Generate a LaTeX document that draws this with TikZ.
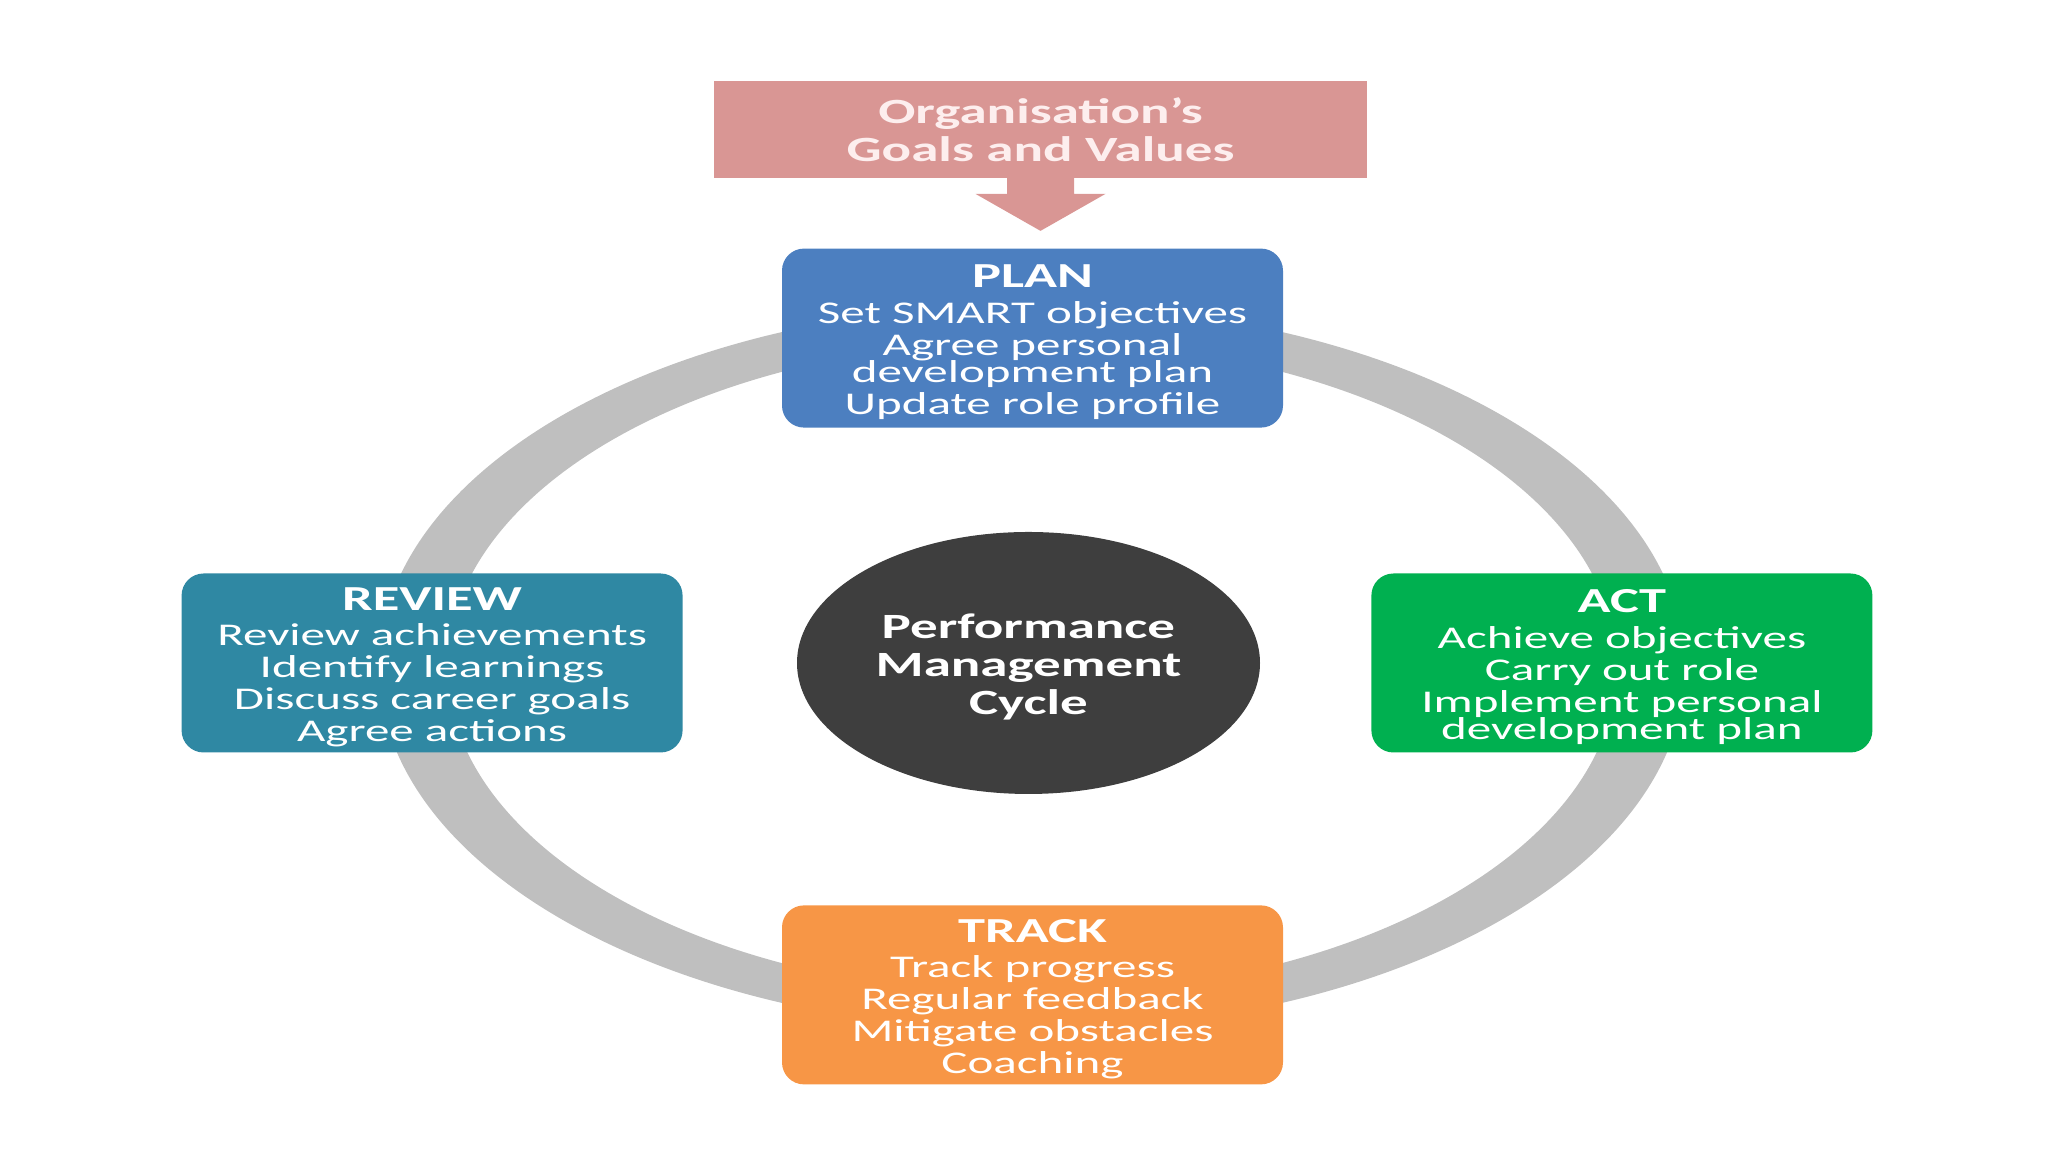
\documentclass[tikz,border=0pt]{standalone}
\usepackage{fontspec}
\setmainfont{Carlito}[FakeStretch=1.55]
\usetikzlibrary{positioning, shapes.geometric}

\definecolor{planblue}{RGB}{76,127,192}
\definecolor{reviewteal}{RGB}{47,136,163}
\definecolor{actgreen}{RGB}{0,176,80}
\definecolor{trackorange}{RGB}{247,150,70}
\definecolor{hubgray}{RGB}{62,62,62}
\definecolor{ringgray}{RGB}{191,191,191}
\definecolor{goalpink}{RGB}{217,150,148}
\definecolor{goaltext}{RGB}{253,238,238}

\newcommand{\stagetitle}[1]{{\bfseries\fontsize{10}{9.1}\selectfont\rule{0pt}{9pt}#1}}

\begin{document}
\begin{tikzpicture}[
      node distance=1.05cm and 1.1cm,
      stage/.style={rounded corners=2.2mm, minimum width=5.01cm, minimum height=1.79cm, inner sep=0pt, align=center, text=white, font=\fontsize{9}{9.1}\selectfont},
      hub/.style={ellipse, fill=hubgray, minimum width=4.63cm, minimum height=2.62cm, inner sep=0pt, align=center, text=white, font=\bfseries\fontsize{10.1}{10.8}\selectfont},
      goal/.style={fill=goalpink, minimum width=6.53cm, minimum height=0.97cm, inner sep=0pt, align=center, text=goaltext, font=\bfseries\fontsize{10.1}{10.8}\selectfont},
      cyclering/.style={fill=ringgray, even odd rule}
    ]
    \useasboundingbox (0,0) rectangle (20.48,11.52);

    % grey band behind the four stages
    \coordinate (mid) at (10.32,4.845);
    \fill[cyclering] (mid) ellipse [x radius=6.53cm, y radius=3.63cm]
                     (mid) ellipse [x radius=5.845cm, y radius=3.27cm];

    \node[hub] (hub) at (10.285,4.89) {\rule{0pt}{9.2pt}Performance\\Management\\Cycle};

    \node[stage, fill=planblue, above=1.03cm of hub, xshift=0.04cm] (plan) {\stagetitle{PLAN}\\[1pt] Set SMART objectives\\ Agree personal\\[-1.2pt] development plan\\ Update role profile};
    \node[stage, fill=trackorange, below=1.1cm of hub, xshift=0.04cm] (track) {\stagetitle{TRACK}\\[1pt] Track progress\\ Regular feedback\\ Mitigate obstacles\\ Coaching};
    \node[stage, fill=reviewteal, left=1.13cm of hub] (review) {\stagetitle{REVIEW}\\[1pt] Review achievements\\ Identify learnings\\ Discuss career goals\\ Agree actions};
    \node[stage, fill=actgreen, right=1.1cm of hub] (act) {\stagetitle{ACT}\\[1pt] Achieve objectives\\ Carry out role\\ Implement personal\\[-1.2pt] development plan};

    \node[goal, above=0.69cm of plan, xshift=0.08cm] (goals) {Organisation’s\\Goals and Values};

    % arrow under the banner
    \coordinate (tip) at ([yshift=-0.52cm]goals.south);
    \fill[goalpink] ([xshift=-0.335cm,yshift=0.01cm]goals.south) -- ([xshift=-0.335cm,yshift=-0.15cm]goals.south)
      -- ([xshift=-0.65cm,yshift=-0.15cm]goals.south) -- (tip) -- ([xshift=0.65cm,yshift=-0.15cm]goals.south)
      -- ([xshift=0.335cm,yshift=-0.15cm]goals.south) -- ([xshift=0.335cm,yshift=0.01cm]goals.south) -- cycle;

  \end{tikzpicture}
\end{document}
